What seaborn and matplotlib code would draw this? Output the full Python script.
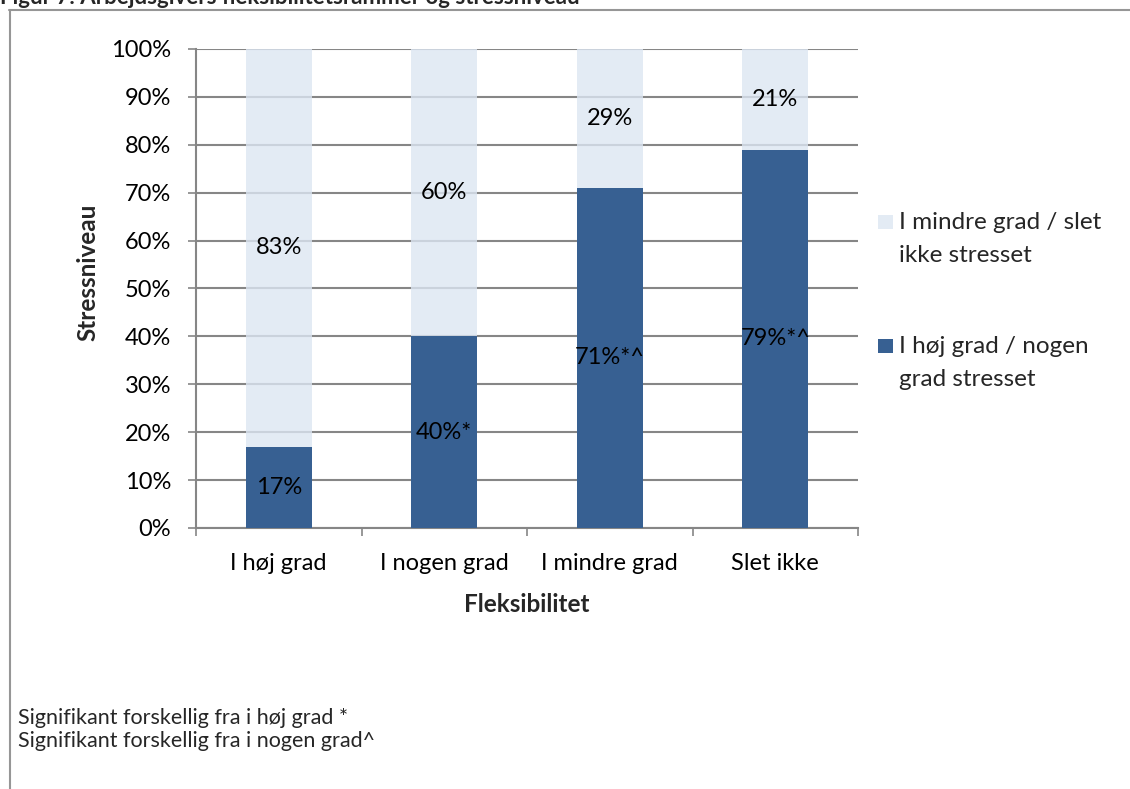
import matplotlib
matplotlib.use("Agg")
import matplotlib.pyplot as plt
from matplotlib.lines import Line2D
from matplotlib.patches import Rectangle
from matplotlib.ticker import FixedLocator, PercentFormatter
import seaborn as sns
import pandas as pd

# Data: share of employees by stress level, split by employer flexibility
categories = ["I høj grad", "I nogen grad", "I mindre grad", "Slet ikke"]
stressed = [17, 40, 71, 79]          # I høj grad / nogen grad stresset
not_stressed = [83, 60, 29, 21]      # I mindre grad / slet ikke stresset
stressed_labels = ["17%", "40%*", "71%*^", "79%*^"]
not_stressed_labels = ["83%", "60%", "29%", "21%"]
series_names = [["I mindre grad / slet", "ikke stresset"],
                ["I høj grad / nogen", "grad stresset"]]
y_ticks = [0, 10, 20, 30, 40, 50, 60, 70, 80, 90, 100]
notes = ["Signifikant forskellig fra i høj grad *",
         "Signifikant forskellig fra i nogen grad^"]
title = "Figur 7: Arbejdsgivers fleksibilitetsrammer og stressniveau"

dark = "#376092"
light = "#DCE6F2"
grid_gray = "#868686"

sns.set_theme(style="white")
plt.rcParams["font.family"] = ["Lato", "DejaVu Sans"]

W, H = 1130, 789
fig = plt.figure(figsize=(W / 100, H / 100), dpi=100)


def fx(x):
    return x / W


def fy(y):
    return 1 - y / H


ax = fig.add_axes([fx(196), fy(528), (858 - 196) / W, (528 - 49) / H])

df = pd.DataFrame({
    "cat": categories,
    "stressed": stressed,
    "total": [a + b for a, b in zip(stressed, not_stressed)],
})

# Light segment drawn as full stack, dark segment on top of it
sns.barplot(data=df, x="cat", y="total", color=light, alpha=0.8, width=0.4,
            saturation=1, ax=ax, zorder=2, linewidth=0)
sns.barplot(data=df, x="cat", y="stressed", color=dark, width=0.4,
            saturation=1, ax=ax, zorder=3, linewidth=0)

ax.set_xlim(-0.5, len(categories) - 0.5)
ax.set_ylim(0, 100)
ax.yaxis.set_major_locator(FixedLocator(y_ticks))
ax.yaxis.set_major_formatter(PercentFormatter(decimals=0))
ax.grid(axis="y", color=grid_gray, linewidth=1.5, zorder=1)
ax.set_axisbelow(True)
for s in ["top", "right"]:
    ax.spines[s].set_visible(False)
for s in ["left", "bottom"]:
    ax.spines[s].set_color(grid_gray)
    ax.spines[s].set_linewidth(1.5)

ax.tick_params(axis="y", which="major", length=6, width=1.2, color=grid_gray,
               direction="out", left=True, pad=12, labelsize=17)
ax.tick_params(axis="x", which="major", length=0, pad=18, labelsize=17)
ax.set_xticks([i - 0.5 for i in range(len(categories) + 1)], minor=True)
ax.tick_params(axis="x", which="minor", length=6, width=1.2, color=grid_gray,
               direction="out", bottom=True)
for lab in ax.get_yticklabels() + ax.get_xticklabels():
    lab.set_color("black")

ax.set_xlabel("Fleksibilitet", fontsize=17.5, fontweight="bold", labelpad=14)
ax.set_ylabel("Stressniveau", fontsize=17.5, fontweight="bold")
ax.yaxis.set_label_coords(-0.146, 0.534)

# Value labels at the middle of each segment
for i in range(len(categories)):
    ax.text(i, stressed[i] / 2, stressed_labels[i], ha="center", va="center",
            fontsize=17, color="black", zorder=5)
    ax.text(i, stressed[i] + not_stressed[i] / 2, not_stressed_labels[i],
            ha="center", va="center", fontsize=17, color="black", zorder=5)

# Legend entries: swatch beside the first line of each two-line label
legend_rows = [(series_names[0], light, 0.8, 229, 262),
               (series_names[1], dark, 1.0, 353, 386)]
for lines, col, a, b1, b2 in legend_rows:
    fig.patches.append(Rectangle((fx(878), fy(b1)), 15 / W, 14 / H,
                                 transform=fig.transFigure, facecolor=col,
                                 edgecolor="none", alpha=a))
    fig.text(fx(899), fy(b1), lines[0], ha="left", va="baseline", fontsize=17.5)
    fig.text(fx(899), fy(b2), lines[1], ha="left", va="baseline", fontsize=17.5)

# Footnotes
fig.text(fx(18), fy(724), notes[0], ha="left", va="baseline", fontsize=15.5)
fig.text(fx(18), fy(747), notes[1], ha="left", va="baseline", fontsize=15.5)

# Title and chart frame
fig.text(fx(0), fy(4.5), title, ha="left", va="baseline", fontsize=16,
         fontweight="bold")
fig.lines.append(Line2D([fx(9), fx(1130)], [fy(10), fy(10)], transform=fig.transFigure,
                        color="#969696", linewidth=1.5))
fig.lines.append(Line2D([fx(9.5), fx(9.5)], [fy(10), fy(789)], transform=fig.transFigure,
                        color="#969696", linewidth=1.5))

fig.savefig("out.png", dpi=100)
